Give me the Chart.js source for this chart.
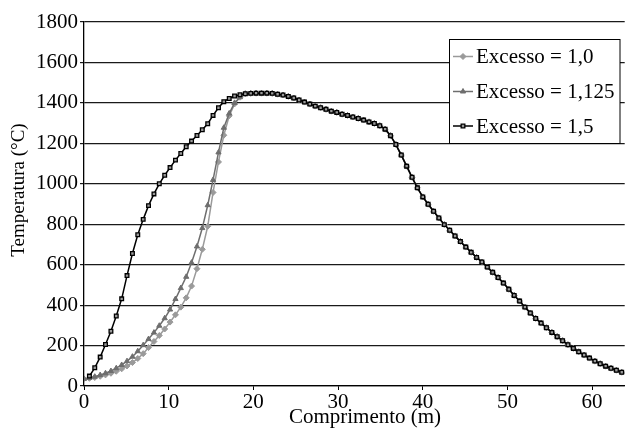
<!DOCTYPE html>
<html>
<head>
<meta charset="utf-8">
<script src="https://cdn.jsdelivr.net/npm/chart.js@4"></script>
<style>
  html, body { margin: 0; padding: 0; background: #fff; }
  #grafico { display: block; }
</style>
</head>
<body>
<canvas id="grafico" width="630" height="432"></canvas>
<script>
// posicao ao longo do forno (m), um ponto a cada 0,635 m
const comprimento = [
    0.00, 0.64, 1.27, 1.91, 2.54, 3.18, 3.81, 4.45, 5.08, 5.72,
    6.35, 6.99, 7.62, 8.26, 8.89, 9.53, 10.16, 10.80, 11.43, 12.07,
    12.70, 13.34, 13.97, 14.61, 15.24, 15.88, 16.51, 17.15, 17.78, 18.42,
    19.05, 19.69, 20.32, 20.96, 21.59, 22.23, 22.86, 23.50, 24.13, 24.77,
    25.40, 26.04, 26.67, 27.31, 27.94, 28.58, 29.21, 29.85, 30.48, 31.12,
    31.75, 32.39, 33.02, 33.66, 34.29, 34.93, 35.56, 36.20, 36.83, 37.47,
    38.10, 38.74, 39.37, 40.01, 40.64, 41.28, 41.91, 42.55, 43.18, 43.82,
    44.45, 45.09, 45.72, 46.36, 46.99, 47.63, 48.26, 48.90, 49.53, 50.17,
    50.80, 51.44, 52.07, 52.71, 53.34, 53.98, 54.61, 55.25, 55.88, 56.52,
    57.15, 57.79, 58.42, 59.06, 59.69, 60.33, 60.96, 61.60, 62.23, 62.87,
    63.50
];

// trecho de subida (0 a 18,4 m) de cada excesso
const subida10 = [
    35, 38, 42, 48, 55, 63, 73, 85, 99, 116,
    136, 160, 190, 220, 250, 282, 316, 352, 390, 436,
    494, 580, 676, 790, 957, 1108, 1240, 1336, 1395, 1428
];
const subida1125 = [
    35, 40, 46, 54, 63, 74, 88, 104, 123, 145,
    172, 202, 232, 264, 298, 335, 378, 430, 484, 540,
    610, 690, 781, 894, 1019, 1155, 1277, 1348, 1400, 1428
];
// excesso 1,5 comeca no segundo ponto (0,64 m)
const subida15 = [
    49, 90, 143, 205, 271, 346, 431, 546, 655,
    748, 824, 892, 950, 1000, 1042, 1080, 1117, 1150, 1183,
    1211, 1239, 1267, 1297, 1338, 1376, 1406, 1422, 1434, 1440
];

// a partir de 19 m as tres curvas coincidem
const trechoComum = [
    1445, 1447, 1448, 1448, 1448, 1447, 1443, 1439, 1432, 1424,
    1414, 1404, 1394, 1384, 1376, 1368, 1359, 1353, 1344, 1338,
    1330, 1323, 1315, 1306, 1298, 1287, 1270, 1238, 1194, 1142,
    1087, 1032, 980, 935, 899, 864, 831, 798, 770, 742,
    714, 687, 661, 636, 613, 588, 562, 536, 509, 478,
    448, 420, 390, 361, 334, 311, 288, 265, 244, 224,
    204, 186, 169, 153, 138, 123, 110, 98, 88, 78,
    68
];

const rotulos = ["Excesso = 1,0", "Excesso = 1,125", "Excesso = 1,5"];
const ticksX = [0, 10, 20, 30, 40, 50, 60];
const ticksY = [0, 200, 400, 600, 800, 1000, 1200, 1400, 1600, 1800];

function montaPontos(xs, ys) {
    return ys.map((y, i) => ({ x: xs[i], y: y }));
}

const serie10 = montaPontos(comprimento, subida10.concat(trechoComum));
const serie1125 = montaPontos(comprimento, subida1125.concat(trechoComum));
const serie15 = montaPontos(comprimento.slice(1), subida15.concat(trechoComum));

const fonte = "'Liberation Serif', 'Times New Roman', serif";

// legenda com caixa e titulos dos eixos, desenhados depois do grafico
const legendaCaixa = {
    id: "legendaCaixa",
    afterDraw(chart) {
        const ctx = chart.ctx;
        ctx.save();
        ctx.fillStyle = "#fff";
        ctx.fillRect(449.5, 39.5, 170.5, 104);
        ctx.strokeStyle = "#000";
        ctx.lineWidth = 1;
        ctx.strokeRect(449.5, 39.5, 170.5, 104);

        const linhas = [56.5, 91.5, 126];
        chart.data.datasets.forEach((ds, i) => {
            const y = linhas[i];
            ctx.strokeStyle = ds.borderColor;
            ctx.lineWidth = ds.borderWidth;
            ctx.beginPath();
            ctx.moveTo(453, y);
            ctx.lineTo(473, y);
            ctx.stroke();

            ctx.fillStyle = ds.pointBackgroundColor;
            ctx.strokeStyle = ds.pointBorderColor;
            ctx.lineWidth = ds.pointBorderWidth;
            Chart.helpers.drawPoint(ctx, {
                pointStyle: ds.pointStyle,
                radius: ds.pointRadius,
                borderWidth: ds.pointBorderWidth
            }, 463, y);

            ctx.fillStyle = "#000";
            ctx.font = "21px " + fonte;
            ctx.textBaseline = "middle";
            ctx.textAlign = "left";
            ctx.fillText(ds.label, 476, y + 1);
        });

        ctx.fillStyle = "#000";
        ctx.textAlign = "center";
        ctx.textBaseline = "alphabetic";
        ctx.font = "21px " + fonte;
        ctx.fillText("Comprimento (m)", 365, 423);

        ctx.translate(24, 190);
        ctx.rotate(-Math.PI / 2);
        ctx.font = "19px " + fonte;
        ctx.fillText("Temperatura (°C)", 0, 0);
        ctx.restore();
    }
};

new Chart(document.getElementById("grafico"), {

    type: "line",

    data: {
        datasets: [
            {
                label: rotulos[0],
                data: serie10,
                borderColor: "#9a9a9a",
                backgroundColor: "#9a9a9a",
                borderWidth: 1.5,
                pointStyle: "rectRot",
                pointRadius: 3,
                pointBackgroundColor: "#9a9a9a",
                pointBorderColor: "#9a9a9a",
                pointBorderWidth: 1,
                order: 2
            },
            {
                label: rotulos[1],
                data: serie1125,
                borderColor: "#6e6e6e",
                backgroundColor: "#6e6e6e",
                borderWidth: 1.5,
                pointStyle: "triangle",
                pointRadius: 3,
                pointBackgroundColor: "#6e6e6e",
                pointBorderColor: "#6e6e6e",
                pointBorderWidth: 1,
                order: 1
            },
            {
                label: rotulos[2],
                data: serie15,
                borderColor: "#000",
                backgroundColor: "#000",
                borderWidth: 1.5,
                pointStyle: "rect",
                pointRadius: 2.6,
                pointBackgroundColor: "#9a9a9a",
                pointBorderColor: "#000",
                pointBorderWidth: 1.3,
                order: 0
            }
        ]
    },

    options: {
        responsive: false,
        animation: false,
        layout: {
            padding: { top: 22, right: 0, left: 0, bottom: 0 }
        },
        plugins: {
            legend: { display: false },
            tooltip: { enabled: false }
        },
        elements: {
            line: { tension: 0 }
        },
        scales: {
            x: {
                type: "linear",
                min: 0,
                max: 63.85,
                afterFit(scale) { scale.height = 46; },
                afterBuildTicks(scale) {
                    scale.ticks = ticksX.map(v => ({ value: v }));
                },
                ticks: {
                    color: "#000",
                    font: { family: fonte, size: 21 },
                    padding: 0,
                    maxRotation: 0,
                    callback: v => String(v)
                },
                grid: {
                    drawOnChartArea: false,
                    drawTicks: true,
                    tickLength: 4,
                    color: "#000"
                },
                border: { color: "#000", width: 1.3 }
            },
            y: {
                min: 0,
                max: 1800,
                afterFit(scale) { scale.width = 84; },
                afterBuildTicks(scale) {
                    scale.ticks = ticksY.map(v => ({ value: v }));
                },
                ticks: {
                    color: "#000",
                    font: { family: fonte, size: 21 },
                    padding: 2,
                    callback: v => String(v)
                },
                grid: {
                    color: "#1a1a1a",
                    lineWidth: 1.2,
                    tickLength: 4
                },
                border: { color: "#000", width: 1.3 }
            }
        }
    },

    plugins: [legendaCaixa]

});
</script>
</body>
</html>
